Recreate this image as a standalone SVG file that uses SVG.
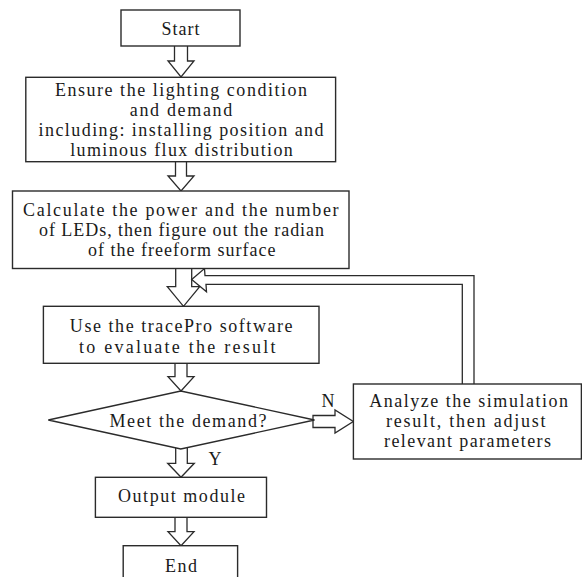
<svg xmlns="http://www.w3.org/2000/svg" width="582" height="577" viewBox="0 0 582 577">
<style>
.box{fill:#fff;stroke:#2b2b2b;stroke-width:1.4}
.arr{fill:#fff;stroke:#2b2b2b;stroke-width:1.3;stroke-linejoin:miter}
text{font-family:"Liberation Serif","Times New Roman",serif;font-size:18px;fill:#1a1a1a;text-anchor:middle}
</style>
<rect width="582" height="577" fill="#fff"/>
<g id="connectors">
<polygon class="arr" points="174.5,45 174.5,61 168,61 181,77 194,61 187.5,61 187.5,45"/>
<polygon class="arr" points="175.5,161 175.5,176 168,176 181,191 194,176 186.5,176 186.5,161"/>
<polygon class="arr" points="175.7,268 175.7,286.7 167.3,286.7 183.5,306.3 199.7,286.7 191.7,286.7 191.7,268"/>
<polygon class="arr" points="175,363 175,376.7 168,376.7 181,391 194,376.7 187,376.7 187,363"/>
<polygon class="arr" points="175.7,446 175.7,463.3 167.7,463.3 181,477.3 194.3,463.3 187.3,463.3 187.3,446"/>
<polygon class="arr" points="175,517 175,531.7 168,531.7 181,545.7 194,531.7 187,531.7 187,517"/>
<polygon class="arr" points="313,415.5 335,415.5 335,410 353.3,421.5 335,433 335,427.5 313,427.5"/>
<polygon class="arr" points="462.3,385 462.3,284.3 206,284.3 206.5,291.7 191.7,279.5 204.5,268.5 205,275.7 474,275.7 474,385"/>
<text x="328" y="407">N</text>
<text x="215" y="465">Y</text>
</g>
<g id="start">
<rect class="box" x="121" y="10" width="119" height="36"/>
<text x="180.5" y="35" textLength="38" lengthAdjust="spacing">Start</text>
</g>
<g id="ensure">
<rect class="box" x="25.8" y="77.3" width="309.8" height="84.4"/>
<text x="181" y="95.7" textLength="252" lengthAdjust="spacing">Ensure the lighting condition</text>
<text x="181" y="115.7" textLength="102.5" lengthAdjust="spacing">and demand</text>
<text x="181" y="136" textLength="285" lengthAdjust="spacing">including: installing position and</text>
<text x="181.5" y="156" textLength="222.7" lengthAdjust="spacing">luminous flux distribution</text>
</g>
<g id="calculate">
<rect class="box" x="12.5" y="191" width="336.5" height="77.5"/>
<text x="180.8" y="215.5" textLength="315.5" lengthAdjust="spacing">Calculate the power and the number</text>
<text x="181.5" y="235.7" textLength="285" lengthAdjust="spacing">of LEDs, then figure out the radian</text>
<text x="181.7" y="255.7" textLength="187.4" lengthAdjust="spacing">of the freeform surface</text>
</g>
<g id="evaluate">
<rect class="box" x="43.4" y="306.3" width="275.6" height="57"/>
<text x="181.2" y="331.7" textLength="222.7" lengthAdjust="spacing">Use the tracePro software</text>
<text x="177.2" y="352.7" textLength="196.4" lengthAdjust="spacing">to evaluate the result</text>
</g>
<g id="decision">
<polygon class="box" points="48.3,420 180.8,391 314.5,420 180.8,449"/>
<text x="188" y="426.7" textLength="157" lengthAdjust="spacing">Meet the demand?</text>
</g>
<g id="analyze">
<rect class="box" x="353.4" y="384" width="228" height="75"/>
<text x="468.6" y="406.7" textLength="198.7" lengthAdjust="spacing">Analyze the simulation</text>
<text x="465.8" y="426.7" textLength="159.6" lengthAdjust="spacing">result, then adjust</text>
<text x="467.5" y="446.7" textLength="167" lengthAdjust="spacing">relevant parameters</text>
</g>
<g id="output">
<rect class="box" x="95.4" y="477.3" width="171.1" height="40"/>
<text x="181.5" y="502.3" textLength="127" lengthAdjust="spacing">Output module</text>
</g>
<g id="end">
<rect class="box" x="123.2" y="545.7" width="114.4" height="45"/>
<text x="181" y="571.7" textLength="32" lengthAdjust="spacing">End</text>
</g>
</svg>
